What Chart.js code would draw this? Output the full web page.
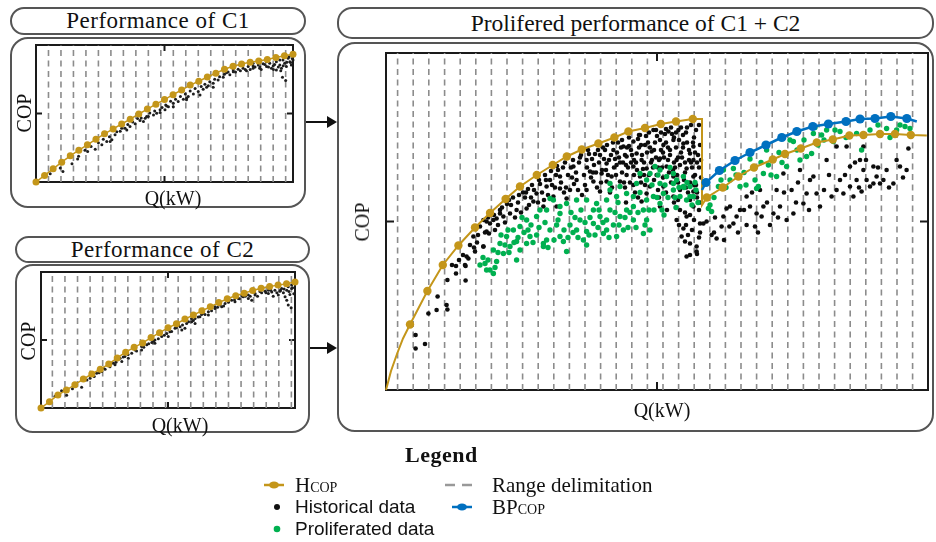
<!DOCTYPE html>
<html>
<head>
<meta charset="utf-8">
<title>Prolifered performance of C1 + C2</title>
<script src="https://cdn.jsdelivr.net/npm/chart.js@4.4.0/dist/chart.umd.min.js"></script>
<style>
  body { margin: 0; width: 936px; height: 542px; background: #fff; position: relative; overflow: hidden;
         font-family: "Liberation Serif", "Times New Roman", serif; color: #111; }
  .pill, .box { position: absolute; box-sizing: border-box; border: 2px solid #555; }
  .pill { border-radius: 15px; text-align: center; }
  .box { border-radius: 18px; }
  canvas { position: absolute; }
  .lbl { position: absolute; white-space: nowrap; transform: translate(-50%, -50%); font-size: 20px; line-height: 22px; }
  .rot { transform: translate(-50%, -50%) rotate(-90deg); }
  .leg { position: absolute; white-space: nowrap; line-height: 22px; }
  .sans { font-family: "Liberation Sans", Arial, sans-serif; font-size: 19px; }
  .small { font-size: 14px; }
  svg { position: absolute; left: 0; top: 0; }
</style>
</head>
<body>

<div class="pill" style="left:10px;top:7px;width:296px;height:28px;font-size:23px;letter-spacing:0.5px;line-height:24px;">Performance of C1</div>
<div class="box" style="left:10px;top:37px;width:296px;height:171px;"></div>
<div class="pill" style="left:15px;top:236px;width:295px;height:27px;font-size:23px;letter-spacing:0.5px;line-height:23px;">Performance of C2</div>
<div class="box" style="left:15px;top:264px;width:295px;height:169px;"></div>
<div class="pill" style="left:337px;top:7px;width:597px;height:32px;font-size:23.5px;line-height:28px;">Prolifered performance of C1 + C2</div>
<div class="box" style="left:337px;top:42px;width:597px;height:390px;"></div>

<canvas id="c1" width="278" height="152" style="left:26px;top:38px;"></canvas>
<canvas id="c2" width="274" height="152" style="left:31px;top:265px;"></canvas>
<canvas id="big" width="570" height="360" style="left:366px;top:40px;"></canvas>

<div class="lbl rot" style="left:24px;top:113px;">COP</div>
<div class="lbl" style="left:173px;top:198px;">Q(kW)</div>
<div class="lbl rot" style="left:28px;top:341px;">COP</div>
<div class="lbl" style="left:180px;top:425px;">Q(kW)</div>
<div class="lbl rot" style="left:362px;top:222px;">COP</div>
<div class="lbl" style="left:662px;top:410px;">Q(kW)</div>

<svg width="936" height="542">
  <!-- arrows into the combined panel -->
  <line x1="306" y1="122" x2="328" y2="122" stroke="#111" stroke-width="2"/>
  <polygon points="327,116 337,122 327,128" fill="#111"/>
  <line x1="310" y1="348" x2="328" y2="348" stroke="#111" stroke-width="2"/>
  <polygon points="327,342 337,348 327,354" fill="#111"/>
  <!-- legend keys -->
  <line x1="264" y1="485" x2="284" y2="485" stroke="#C4961A" stroke-width="2.5"/>
  <ellipse cx="274" cy="485" rx="5" ry="3.5" fill="#C4961A"/>
  <circle cx="277" cy="507" r="3" fill="#111"/>
  <circle cx="277" cy="529" r="3.3" fill="#00B050"/>
  <line x1="445" y1="485" x2="455" y2="485" stroke="#999" stroke-width="2.5"/>
  <line x1="462" y1="485" x2="472" y2="485" stroke="#999" stroke-width="2.5"/>
  <line x1="452" y1="507" x2="472" y2="507" stroke="#0070C0" stroke-width="2.5"/>
  <ellipse cx="462" cy="507" rx="5" ry="3.5" fill="#0070C0"/>
</svg>

<div class="leg" style="left:405px;top:444px;font-weight:bold;font-size:22px;letter-spacing:0.5px;">Legend</div>
<div class="leg" style="left:295px;top:474px;font-size:21px;">H<span class="small">COP</span></div>
<div class="leg sans" style="left:295px;top:496px;">Historical data</div>
<div class="leg sans" style="left:295px;top:518px;">Proliferated data</div>
<div class="leg" style="left:492px;top:474px;font-size:21px;">Range delimitation</div>
<div class="leg" style="left:492px;top:496px;font-size:21px;">BP<span class="small">COP</span></div>

<script>
// ---------- C1 (Q 0-105, COP 0-5.6) ----------
const c1Ranges = [5.1, 10.2, 15.3, 20.4, 25.5, 30.6, 35.7, 40.8, 45.9, 51, 56.1, 61.2, 66.3, 71.4,
                  76.5, 81.6, 86.7, 91.8, 96.9, 102];
const c1Hcop = [[0,0],[3.5,0.27],[7,0.54],[10.5,0.81],[14,1.07],[17.5,1.3],[21,1.52],[24.5,1.75],[28,1.97],
  [31.5,2.17],[35,2.37],[38.5,2.57],[42,2.78],[45.5,2.98],[49,3.18],[52.5,3.37],[56,3.57],[59.5,3.76],
  [63,3.96],[66.5,4.12],[70,4.29],[73.5,4.45],[77,4.61],[80.5,4.73],[84,4.82],[87.5,4.9],[91,4.95],
  [94.5,5.01],[98,5.09],[101.5,5.16],[105,5.22]];
const c1Hist = [[5.8,0.34],[9.9,0.57],[11,0.43],[14.7,0.75],[17,0.94],[17.4,1.05],[21.1,1.25],[24.2,1.34],
  [26.9,1.52],[28.9,1.66],[31,1.73],[32.3,1.93],[34.4,2.07],[36.4,2.2],[38.4,2.27],[40.5,2.38],[42.5,2.51],
  [44.6,2.61],[45.9,2.68],[48,2.74],[50.7,2.84],[52.7,2.95],[54.1,3.08],[56.1,3.22],[58.1,3.29],[60.2,3.38],
  [62.2,3.49],[64.3,3.6],[66.3,3.7],[68.3,3.79],[70.4,3.93],[72.4,4.04],[74.4,4.17],[76.5,4.28],[79.2,4.38],
  [80.6,4.58],[82.6,4.61],[84.6,4.65],[86.7,4.72],[88.7,4.74],[90.8,4.78],[92.8,4.83],[94.2,4.72],[95.5,4.85],
  [96.9,4.74],[98.2,4.92],[99.6,4.78],[100.3,4.65],[100.9,4.99],[101.6,4.85],[102.3,4.72],[103,5.06],
  [103.7,4.92],[104.3,4.78],[105,4.99],[100.7,4.28],[102,4.15],[98.2,4.58],[96.2,4.65],[91.4,4.65],
  [88.7,4.65],[86,4.55],[80.6,4.51],[72.4,3.87],[67,3.56],[61.5,3.36],[56.1,3.08],[49.3,2.81],[43.9,2.47],
  [37.1,2.13],[30.3,1.66],[50.7,2.95],[45.2,2.68],[53.4,3.11],[61.5,3.42],[69.7,3.87],[77.8,4.47],
  [83.2,4.78],[88.7,4.85],[94.2,4.92],[99.6,4.99],[103.4,5.12],
  [20,1.3],[22.5,1.45],[25.5,1.6],[27.5,1.75],[30,1.85],[33,2.05],[35,2.2],[37.5,2.35],[39.5,2.45],
  [41.5,2.6],[43,2.62],[46.5,2.82],[48.5,2.9],[51.5,3.05],[53,3.15],[55,3.3],[57,3.38],[59,3.5],[61,3.6],
  [63,3.72],[65,3.82],[67.5,3.9],[69,4],[71,4.1],[73,4.2],[75,4.3],[77,4.4],[78.5,4.5],[81.5,4.5],
  [83.5,4.55],[85.5,4.6],[87.5,4.6],[89.5,4.7],[91.5,4.7],[93.5,4.8],[95,4.7],[97.5,4.8],[99,4.7],
  [101,4.75],[102.5,4.9],[104,4.88],[104.7,5.05],[100,4.55],[97,4.6],[92,4.6]];

// ---------- C2 (Q 0-105, COP 0-5.6) ----------
const c2Ranges = [4.7, 9.9, 15.1, 20.3, 25.5, 30.7, 35.9, 41.1, 46.3, 51.5, 56.7, 61.9, 67.1, 72.3,
                  77.5, 82.7, 87.9, 93.1, 98.3, 103.5];
const c2Hcop = [[0,0],[3.5,0.26],[7,0.54],[10.5,0.74],[14,0.96],[17.5,1.19],[21,1.4],[24.5,1.6],[28,1.81],
  [31.5,2.06],[35,2.3],[38.5,2.5],[42,2.68],[45.5,2.9],[49,3.1],[52.5,3.3],[56,3.47],[59.5,3.66],[63,3.83],
  [66.5,4],[70,4.17],[73.5,4.34],[77,4.5],[80.5,4.62],[84,4.73],[87.5,4.84],[91,4.93],[94.5,5],[98,5.06],
  [101.5,5.12],[105,5.19]];
const c2Hist = [[5.8,0.48],[8.5,0.71],[10.6,0.52],[13,0.79],[16.8,0.85],[20.3,1.23],[23,1.43],[25.8,1.64],
  [27.8,1.78],[29.9,1.84],[31.3,1.98],[33.4,1.91],[32.7,2.05],[34.7,2.12],[37.5,2.25],[38.9,2.39],[41.6,2.53],
  [43.7,2.6],[45.8,2.7],[47.1,2.8],[49.9,2.94],[52,3.07],[53.3,3.14],[55.4,3.28],[57.5,3.35],[59.5,3.28],
  [60.2,3.48],[62.3,3.55],[63.7,3.69],[65.7,3.76],[67.8,3.85],[69.2,3.96],[71.9,4.1],[74,4.24],[76.1,4.3],
  [78.8,4.44],[81.6,4.51],[83.6,4.58],[85.7,4.65],[87.1,4.44],[88.5,4.71],[91.2,4.75],[92.6,4.81],[94,4.71],
  [95.4,4.78],[96.7,4.85],[98.1,4.65],[99.5,4.92],[100.2,4.75],[100.9,4.58],[101.6,4.85],[102.2,4.99],
  [102.9,4.67],[103.6,4.92],[101.6,4.44],[102.2,4.24],[103.4,4.13],[85.7,4.51],[80.2,4.37],[74.7,4.17],
  [69.2,3.83],[63.7,3.48],[58.2,3.21],[52.6,2.94],[47.1,2.67],[41.6,2.39],[36.1,2.05],[30.6,1.78],[25.1,1.5],
  [62.3,3.69],[56.8,3.42],[66.4,3.85],[71.9,4.17],[77.4,4.37],[83,4.62],[88.5,4.65],[94,4.85],[98.8,4.81],
  [103.6,5.06],
  [19,1.15],[22,1.3],[24,1.45],[26.5,1.6],[28.5,1.7],[31,1.88],[34,2.1],[36,2.2],[39.5,2.35],[42.5,2.5],
  [44.5,2.65],[46.5,2.75],[48.5,2.85],[51,3],[54,3.15],[56,3.3],[58.5,3.42],[61,3.55],[63,3.6],[65,3.75],
  [67,3.9],[70.5,4],[73,4.15],[75.5,4.2],[77.5,4.35],[80,4.45],[82,4.5],[84.5,4.6],[86.5,4.6],[89.5,4.6],
  [90.5,4.8],[93,4.75],[95,4.85],[97.5,4.75],[99,4.85],[100.5,4.9],[102.5,4.8],[104,4.95],[104.5,4.7],[96,4.6]];

// ---------- combined C1 + C2 (Q 0-271, COP 0-6.74) ----------
const bigRanges = [5.8, 13.6, 21.4, 29.3, 37.1, 44.9, 52.7, 60.5, 68.3, 76.1, 83.9, 91.7, 99.5, 107.3,
  115.1, 122.9, 130.7, 138.5, 146.3, 154.1, 161.9, 169.7, 177.5, 185.3, 193.1, 200.9, 208.7, 216.5,
  224.3, 232.1, 239.9, 247.7, 255.5, 263.3];

// HCOP: rise from the origin, first compressor envelope, step down, second envelope
const hcopLead = [[0,0],[2.5,0.38],[5.5,0.72],[8.5,1.03]];
const hcopFirst = [[12,1.31],[20.7,1.98],[28.4,2.5],[36.2,2.89],[44.5,3.25],[52,3.54],[59.8,3.82],[67,4.07],
  [75.4,4.3],[83.4,4.5],[90.4,4.67],[97.9,4.81],[106.2,4.93],[114.2,5.05],[121.2,5.17],[129.5,5.24],
  [137.4,5.32],[145,5.37],[153.4,5.42]];
const hcopStep = [[158,5.42],[158,3.7]];
const hcopSecond = [[160.4,3.85],[168.4,4.05],[176.2,4.27],[184,4.45],[193.4,4.61],[199.5,4.72],[207.4,4.83],
  [215.4,4.95],[223.4,5.01],[231.7,5.09],[238.7,5.1],[247,5.12],[254.5,5.12],[262.4,5.1]];
const hcopTail = [[270.4,5.09]];

const bpcopLead = [[158,4.0]];
const bpcop = [[160,4.15],[166.7,4.39],[174.5,4.59],[182,4.75],[190,4.9],[197.9,5.05],[205.4,5.17],
  [213.4,5.27],[221.2,5.32],[230,5.37],[237,5.42],[244.5,5.43],[252.4,5.47],[260.4,5.43]];
const bpcopTail = [[265.4,5.37]];

const histBig = [
  [14.8,1.1],[14.8,0.83],[19.5,0.92],[21.2,1.53],[25.3,1.6],[25.8,1.87],[30.3,1.7],[30.7,1.61],[30.7,2.2],
  [35,2.48],[35,2.33],[39.8,2.48],[39.8,2.19],[41.2,2.63],[44.5,2.77],[48.7,2.87],[50.3,3.17],[51.5,3.13],
  [50.3,3.37],[55.3,3.43],[57,3.53],
  [127,5.1],[133.7,5.2],[141.2,5.17],[146.2,5.2],[137,5],[123.7,4.97],[143.7,5],[118.7,4.87],[129.5,4.9],
  [138.7,4.9],[148.7,4.93],[153.7,4.87],[113.7,4.8],[125.3,4.73],[132.8,4.77],[142,4.8],[152,4.73],[107,4.7],
  [120.3,4.67],[127.8,4.6],[137,4.63],[145.3,4.6],[153.7,4.6],[100.3,4.6],[110.3,4.53],[115.3,4.5],
  [123.7,4.47],[130.3,4.43],[140.3,4.47],[150.3,4.43],[93.7,4.47],[102,4.37],[107.8,4.33],[112.8,4.27],
  [120.3,4.3],[127,4.27],[135.3,4.3],[143.7,4.27],[153.7,4.27],[87,4.27],[95.3,4.2],[103.7,4.17],[110.3,4.17],
  [117,4.17],[123.7,4.1],[132,4.07],[138.7,4.07],[147,4],[153.7,3.97],[80.3,4.07],[87,4.03],[92,4],
  [100.3,4],[107,3.97],[130.3,3.93],[143.7,3.87],[152,3.8],[75.3,3.93],[83.7,3.87],[90.3,3.83],[73.7,3.77],
  [78.7,3.67],[85.3,3.67],[70.3,3.63],[65.3,3.6],[62,3.53],[58.7,3.47],[57,3.6],[53.7,3.4],[48.7,3.4],
  [47,3.27],[52,3.33],[147,3.6],[153.7,3.67],[137,3.67],[127.8,3.77],[150.3,3.47],[145.3,3.4],[152,3.5],
  [43.7,3.07],[48.7,2.87],[40.3,2.67],[39.5,2.5],[147.8,3.07],[149.5,2.97],[152,2.93],[155.3,2.87],
  [150.3,2.67],[155.3,2.77],[148.7,3.23],[157,3.33],
  [60.5,3.72],[63.5,3.85],[66,3.75],[68.5,3.95],[71,4.02],[72.5,3.85],[77,4.12],[79,3.8],[82,4.2],
  [84.5,4.05],[86,4.4],[89,3.95],[91,4.3],[94,4.12],[96.5,4.55],[98,3.9],[99,4.3],[101.5,4.72],[104,4.5],
  [105.5,4.05],[108.5,4.85],[110,4.4],[112,3.95],[114.5,4.62],[116,4.95],[118,4.35],[119.5,4.05],
  [121.5,4.88],[122.5,4.55],[124.5,3.95],[126,5.02],[128.5,4.42],[129.5,4.1],[131,4.95],[133,4.6],
  [134,4.2],[135.5,5.08],[136.5,3.85],[138,4.45],[139.5,5.12],[141,4.6],[142.5,4.15],[144,5.05],
  [144.5,4.45],[146,3.8],[147.5,4.75],[148.5,5.1],[149,4.2],[150.5,4.95],[151,3.95],[152.5,4.55],
  [154,5.05],[154.5,4.3],[155.5,3.85],[156,4.7],[156.5,3.6],[150,3.3],[153,3.2],[156.5,3.05],[152,2.7],
  [155.5,2.72],
  [95,4.35],[97,4.65],[99.5,4.1],[100.5,4.45],[102.5,4.25],[103,4.62],[105,4.35],[106,4.8],[107.5,4.15],
  [109,4.62],[110.5,4.9],[111,4.3],[112.5,4.7],[113,4.05],[115,4.3],[116.5,4.65],[117.5,4.85],[118.5,4.55],
  [119,4.15],[120.5,4.85],[121,4.45],[122,4.15],[123,4.7],[124,4.3],[125,4.55],[126.5,4.85],[127.5,4.15],
  [128,4.7],[129,4.55],[130,5.08],[131.5,4.3],[132,4.85],[133.5,4.45],[134.5,4.95],[135,4.65],[136,4.45],
  [137.5,4.8],[138.5,4.25],[139,4.65],[140,4.95],[141.5,4.35],[142,4.7],[143,5.12],[144,4.55],[145,4.85],
  [145.5,4.3],[146.5,5],[147,4.5],[148,4.65],[149.5,4.35],[150,5.15],[151.5,4.8],[152,4.15],[153,4.45],
  [154.5,4.75],[155,4.1],[156.5,4.45],[157,4.9],[155.5,3.95],[157,3.75],[144,3.75],[140,3.95],[136,4],
  [126,3.85],[120,3.75],[140.5,3.6],[146.5,3.3],[149.5,3.55],[154,3.4],[157,3.15],[151,3.1],
  [56,3.3],[59.5,3.35],[62.5,3.7],[64.5,3.45],[67.5,3.55],[69.5,3.85],[71.5,3.7],[74,4],[76,3.75],[78,3.95],
  [80,4.2],[81,3.9],[83,4.1],[85,4.3],[87.5,4.15],[88.5,4.45],[90,4.05],[92.5,4.45],[93,4.25],[96,4],
  [45.5,2.95],[46,3.1],[49.5,3.15],[54.5,3.2],[44,2.85],[42,2.9],[38.5,2.7],[36.5,2.6],[33,2.5],
  [104.5,4.72],[106.5,4.55],[108,4.4],[109.5,4.8],[111.5,4.6],[113.5,4.95],[114,4.45],[115.5,4.75],
  [117,4.55],[118,5],[119.5,4.7],[120,4.5],[121.5,5.05],[122.5,4.8],[124,4.6],[125.5,4.4],[126.5,5.1],
  [127.5,4.9],[129,4.3],[130.5,4.75],[131.5,5.15],[132.5,4.55],[134,4.8],[135,5.2],[136.5,4.6],[137.5,5.15],
  [138.5,4.75],[140,5.22],[141,4.85],[142.5,5.25],[143.5,4.4],[145,5.15],[146,4.65],[147.5,5.25],
  [148.5,4.85],[149.5,4.55],[150.5,5.25],[151.5,4.6],[152.5,5.3],[153.5,4.95],[155,5.2],[155.5,4.55],
  [156.5,5.3],[157.5,4.6],[157.5,4.25],[154,4.1],[150,4.05],[146,4.15],
  [66.5,3.9],[70,3.95],[73,4.1],[76.5,4.2],[79.5,4.3],[82.5,4.38],[85.5,4.48],[89.5,4.55],[93.5,4.6],
  [97.5,4.7],[101,4.8],[103.5,4.35],[61.5,3.8],[58,3.65],[54,3.5],[51,3.45],
  [158.7,3.33],[160.3,3.37],[162.8,3.1],[164,3.15],[168.7,3.47],[172,3.67],[171.7,3.27],[175.3,3.47],
  [177,3.6],[180.3,3.87],[182,3.67],[184.5,3.27],[187,4],[187.8,3.47],[193.7,3.53],[195.3,4],[198.7,4.33],
  [200.3,3.4],[202.8,4],[207,4.4],[208.7,3.73],[213.7,4.27],[215.3,3.93],[220.3,4.6],[222.8,3.87],[227,4.2],
  [228.7,3.93],[230.3,4.87],[232,4.47],[233.7,3.87],[235.3,4.2],[237,4.6],[238.7,4.4],[240.3,4.2],[242,4.07],
  [243.7,4.47],[245.3,4.27],[247,4.13],[250.3,4.4],[253.7,4.13],[260.3,4.4],[261.2,4.83],[170.3,3.63],
  [173.7,3.33],[167.8,3.27],[165.3,3.03],[180.3,3.3],[185.3,3.53],[188.7,3.67],[197,3.67],[203.7,3.53],
  [210.3,3.93],[212,4.2],[217,3.67],[225.3,4],[232,4.07],[237.8,3.97],[243.7,4.13],[248.7,4.2],[255.3,4.6],
  [257,4.47],[225.3,4.87],[238.7,4.87],
  [164.5,3.45],[169,3],[176,3.15],[179,3.6],[183,3.95],[190.5,3.75],[192,3.3],[199,3.95],[205,3.75],
  [206,4.15],[211.5,3.6],[219,4],[221.5,4.3],[229.5,4.3],[234.5,4.55],[236.5,4.05],[240,4.6],[246,4.45],
  [251.5,4.05],[258.5,4.25],[196,3.45],[186,3.15]];

const prolBig = [
  [47,2.5],[49.5,2.53],[52,2.4],[53.7,2.33],[50.3,2.4],[55.3,2.57],[58.7,2.73],[62,2.87],[65.3,2.97],[67,2.8],
  [70.3,2.93],[72,3.07],[75.3,3.1],[78.7,2.93],[80.3,3],[82,3.2],[85.3,3.3],[87,3.07],[88.7,2.97],[92,3.3],
  [95.3,3.2],[97,3.4],[100.3,3.17],[98.7,3],[103.7,3.33],[107,3.47],[110.3,3.4],[110.3,3.2],[113.7,3.3],
  [117,3.47],[120.3,3.6],[123.7,3.4],[123.7,3.67],[128.7,3.6],[130.3,3.8],[133.7,3.87],[137,3.73],
  [138.7,3.93],[143.7,4],[147,3.87],[150.3,3.8],[153.7,3.87],[152,4.07],[145.3,4.2],[140.3,4.27],[137,4.4],
  [132,4.33],[127,4.33],[125.3,4.13],[130.3,4.2],[137,4.13],[143.7,4.13],[148.7,4.27],[120.3,3.93],
  [115.3,3.87],[110.3,3.8],[105.3,3.73],[100.3,3.8],[95.3,3.8],[90.3,3.73],[87,3.67],[83.7,3.8],[80.3,3.6],
  [75.3,3.47],[70.3,3.4],[67,3.27],[63.7,3.2],[60.3,3.07],[57,2.93],[53.7,2.8],[77,3.6],[82,3.83],[87,3.53],
  [103.7,3.6],[112,4],[117,4.07],[123.7,3.87],[130.3,3.4],[115.3,3.07],[65.3,2.6],[78.7,2.87],[90.3,2.77],
  [100.3,2.9],[108.7,3.13],[118.7,3.2],[128.7,3.13],[132,3.2],[134.5,4.47],[143.7,4.33],[112,4.13],
  [148.7,4.07],[152,3.87],[92.5,3.55],[96,3.05],[102,3.45],[106,3.25],[112,3.6],[116,3.75],[121,3.25],
  [126,3.55],[134,3.6],[139,3.5],[141,3.85],[145,3.65],[149,4.05],[155,4],[156,3.75],[72.5,3.3],[61.5,2.75],
  [57.5,3.1],[69,3.15],
  [48.5,2.65],[51,2.6],[54.5,2.45],[56,2.75],[59.5,2.9],[61,3.2],[64,2.95],[66,3.05],[68,3.45],[71,3.2],
  [73.5,2.95],[76.5,3.25],[79.5,3.35],[81,2.85],[84,3],[86,3.4],[89,3.2],[91,3.05],[93.5,3.15],[94.5,3.45],
  [97.5,3.6],[99.5,3.35],[101.5,3.1],[104.5,3.1],[106.5,3.6],[108.5,3.35],[111.5,3.05],[114.5,3.55],
  [116.5,3.3],[119.5,3.45],[122,3.55],[125,3.25],[127,3.95],[129.5,3.3],[131.5,3.6],[135.5,3.85],[136,4.3],
  [139.5,4.1],[142,4.45],[144.5,3.85],[146.5,4.05],[150.5,4.15],[153,3.7],[154.5,4.15],[133,4.1],[138,3.6],
  [162,3.7],[162.8,3.57],[161.2,3.63],[166.2,4.07],[172,4.2],[173.7,4.43],[177,4.07],[184.5,4.2],[185.3,4.03],
  [186.2,4.07],[190.3,4.8],[191.2,4.5],[193.7,4.6],[195.3,4.27],[200.3,4.47],[203.7,4.97],[207,4.6],
  [212.8,4.73],[213.7,5.13],[214.5,5.25],[217.8,5.1],[220.3,5.2],[223.7,4.97],[235.3,5.13],[237.8,4.8],
  [250.3,5.23],[259.5,5.27],[262,5.23],[182,4.62],[188.7,4.33],[168.7,4.4],[202,5],[210.3,4.67],[227,5.17],
  [242,5.2],[255.3,5.2],
  [164,3.85],[167.5,4.2],[170,4.05],[175,4.3],[179,4.35],[180,4.1],[187.5,4.55],[192.5,4.3],[196.5,4.75],
  [198,4.55],[205.5,4.8],[209,5],[216,4.9],[219,5],[224.5,5.2],[230,5.05],[239,5.1],[246,5.3],[252,5.05],
  [257,5.3]];

const GOLD = '#C4961A', BLUE = '#0070C0', GREEN = '#00B050';

const xy = list => list.map(p => ({x: p[0], y: p[1]}));

// vertical dashed lines, one gap-separated segment per range boundary
function rangeLines(bounds, top) {
  const out = [];
  bounds.forEach(v => out.push({x: v, y: 0}, {x: v, y: top}, {x: v, y: null}));
  return out;
}

// joins path pieces, flagging which points carry a marker
function path(pieces) {
  const out = [];
  pieces.forEach(([list, marked]) => list.forEach(p => out.push({x: p[0], y: p[1], m: marked})));
  return out;
}

// plot frame plus the inward centre ticks on all four sides
const frame = {
  id: 'frame',
  beforeDatasetsDraw(chart, args, opts) {
    const {ctx, chartArea: a, scales: {x, y}} = chart;
    const mx = x.getPixelForValue((x.min + x.max) / 2);
    const my = y.getPixelForValue((y.min + y.max) / 2);
    ctx.save();
    ctx.strokeStyle = '#1a1a1a';
    ctx.lineWidth = opts.width;
    ctx.strokeRect(a.left, a.top, a.right - a.left, a.bottom - a.top);
    ctx.beginPath();
    ctx.moveTo(mx, a.bottom); ctx.lineTo(mx, a.bottom - opts.tick);
    ctx.moveTo(mx, a.top); ctx.lineTo(mx, a.top + opts.tick);
    ctx.moveTo(a.left, my); ctx.lineTo(a.left + opts.tick, my);
    ctx.moveTo(a.right, my); ctx.lineTo(a.right - opts.tick, my);
    ctx.stroke();
    ctx.restore();
  }
};

function draw(id, xMax, yMax, padding, tick, datasets) {
  return new Chart(document.getElementById(id), {
    type: 'scatter',
    data: {datasets},
    options: {
      responsive: false,
      animation: false,
      events: [],
      layout: {padding},
      scales: {
        x: {type: 'linear', min: 0, max: xMax, display: false},
        y: {type: 'linear', min: 0, max: yMax, display: false}
      },
      plugins: {legend: {display: false}, tooltip: {enabled: false}, frame: {width: 2, tick}}
    },
    plugins: [frame]
  });
}

function rangeSet(bounds, top) {
  return {data: rangeLines(bounds, top), showLine: true, spanGaps: false, pointRadius: 0,
          borderColor: '#8c8c8c', borderWidth: 1.6, borderDash: [6, 4.5], order: 5, clip: false};
}

function smallSets(ranges, hcop, hist) {
  return [
    rangeSet(ranges, 5.6),
    {data: xy(hist), pointRadius: 1.5, pointBorderWidth: 0, backgroundColor: '#1e1e1e', order: 4, clip: false},
    {data: xy(hcop), showLine: true, borderColor: GOLD, borderWidth: 1.5, pointRadius: 3.5,
     pointBorderWidth: 0, backgroundColor: GOLD, order: 2, clip: false}
  ];
}

draw('c1', 105, 5.6, {left: 10, top: 7, right: 11, bottom: 8}, 6, smallSets(c1Ranges, c1Hcop, c1Hist));
draw('c2', 105, 5.6, {left: 10, top: 7, right: 10, bottom: 9}, 6, smallSets(c2Ranges, c2Hcop, c2Hist));

draw('big', 271, 6.74, {left: 20, top: 13, right: 8, bottom: 10}, 8, [
  rangeSet(bigRanges, 6.74),
  {data: xy(histBig), pointRadius: 2.3, pointBorderWidth: 0, backgroundColor: '#0d0d0d', order: 4, clip: false},
  {data: xy(prolBig), pointRadius: 2.7, pointBorderWidth: 0, backgroundColor: GREEN, order: 3, clip: false},
  {data: path([[hcopLead, false], [hcopFirst, true], [hcopStep, false], [hcopSecond, true], [hcopTail, false]]),
   showLine: true, borderColor: GOLD, borderWidth: 2, backgroundColor: GOLD, pointBorderWidth: 0,
   pointRadius: c => (c.raw && c.raw.m) ? 4.2 : 0, order: 2, clip: false},
  {data: path([[bpcopLead, false], [bpcop, true], [bpcopTail, false]]),
   showLine: true, borderColor: BLUE, borderWidth: 2.5, backgroundColor: BLUE, pointBorderWidth: 0,
   pointRadius: c => (c.raw && c.raw.m) ? 4.6 : 0, order: 1, clip: false}
]);
</script>
</body>
</html>
